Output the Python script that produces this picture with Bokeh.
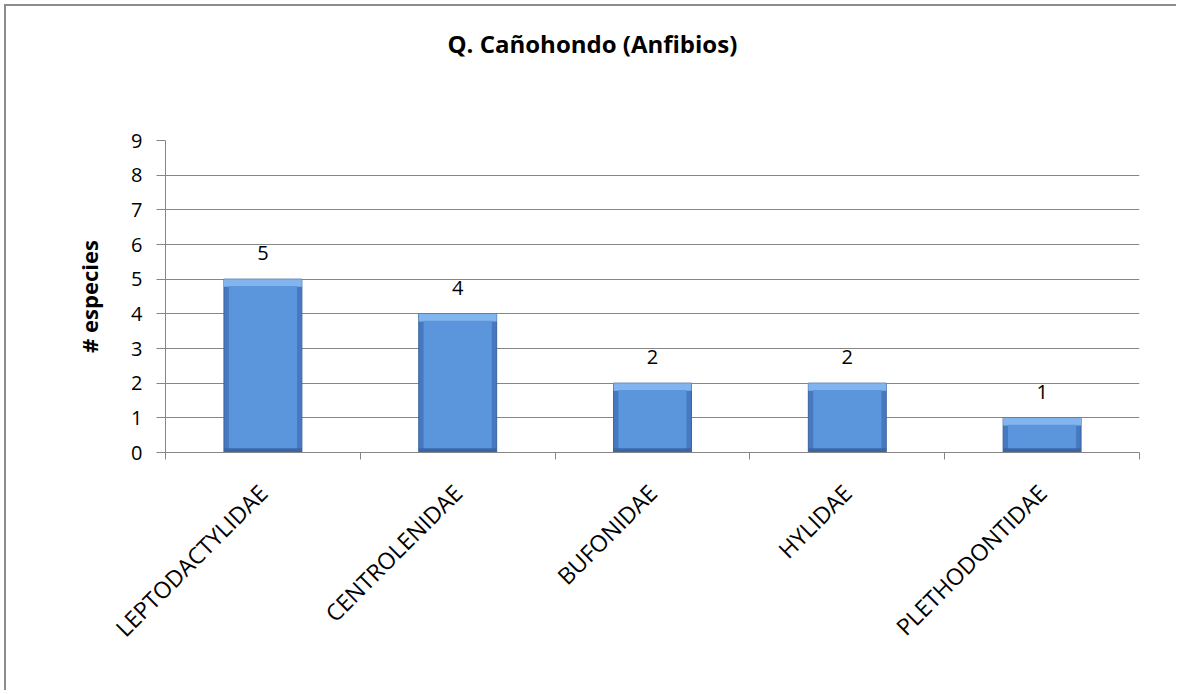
import math
from bokeh.plotting import figure
from bokeh.models import FixedTicker, LabelSet, ColumnDataSource, Range1d, Title
from bokeh.core.properties import value
from bokeh.embed import file_html
from bokeh.resources import INLINE

# ---- data ----
categories = ["LEPTODACTYLIDAE", "CENTROLENIDAE", "BUFONIDAE", "HYLIDAE", "PLETHODONTIDAE"]
values = [5, 4, 2, 2, 1]
y_ticks = [0, 1, 2, 3, 4, 5, 6, 7, 8, 9]
title_text = "Q. Cañohondo (Anfibios)"
y_label = "# especies"

n = len(categories)
positions = [i + 0.5 for i in range(n)]
edges = list(range(n + 1))

GRAY = "#868686"
FONT = "Open Sans"

p = figure(width=1172, height=686,
           x_range=Range1d(0, n), y_range=Range1d(y_ticks[0], y_ticks[-1]),
           output_backend="svg", toolbar_location=None,
           min_border_left=159, min_border_right=39, min_border_top=134, min_border_bottom=240,
           background_fill_color="white", border_fill_color="white",
           outline_line_color=None)
p.styles = {"margin-left": "6px", "margin-top": "6px",
            "box-shadow": "-2px -2px 0px 0px #8c8c8c"}

# spacer (closest to frame) then the real title
spacer = Title(text=" ", text_font_size="1px", standoff=78)
p.add_layout(spacer, "above")
main_title = Title(text=title_text, text_font=FONT, text_font_style="bold",
                   text_font_size="24px", text_color="black",
                   align="left", offset=282, standoff=0)
p.add_layout(main_title, "above")

# bars with bevel look
src = ColumnDataSource(dict(x=positions, v=values, lab=[str(v) for v in values],
                            top_band=[v - 0.22 for v in values],
                            inner_top=[v - 0.2 for v in values]))
bw = 0.4
p.vbar(x="x", width=bw, top="v", bottom=0, source=src, fill_color="#4679bf", line_color="#3a64a0", line_width=1)
p.vbar(x="x", width=bw, top=0.12, bottom=0, source=src, fill_color="#3b66a3", line_color=None)
p.vbar(x="x", width=bw, top="v", bottom="top_band", source=src, fill_color="#82b4ee", line_color=None)
p.vbar(x="x", width=bw - 0.05, top="inner_top", bottom=0.12, source=src, fill_color="#5b96dd", line_color=None)

labels = LabelSet(x="x", y="v", text="lab", source=src, y_offset=19,
                  text_align="center", text_baseline="alphabetic",
                  text_font=value(FONT), text_font_size=value("20px"), text_color="black")
p.add_layout(labels)

# y axis
p.yaxis.ticker = FixedTicker(ticks=y_ticks)
p.yaxis.axis_line_color = GRAY
p.yaxis.major_tick_line_color = GRAY
p.yaxis.major_tick_in = 0
p.yaxis.major_tick_out = 9
p.yaxis.minor_tick_line_color = None
p.yaxis.major_label_text_font = FONT
p.yaxis.major_label_text_font_size = "20px"
p.yaxis.major_label_text_color = "black"
p.yaxis.major_label_standoff = 14
p.yaxis.axis_label = y_label
p.yaxis.axis_label_text_font = FONT
p.yaxis.axis_label_text_font_style = "bold"
p.yaxis.axis_label_text_font_size = "22px"
p.yaxis.axis_label_text_color = "black"
p.yaxis.axis_label_standoff = 24

p.ygrid.ticker = FixedTicker(ticks=y_ticks)
p.ygrid.grid_line_color = GRAY
p.xgrid.grid_line_color = None

# x axis: labels at centers, ticks at boundaries
p.xaxis.ticker = FixedTicker(ticks=positions, minor_ticks=edges)
p.xaxis.major_label_overrides = {pos: cat for pos, cat in zip(positions, categories)}
p.xaxis.major_tick_line_color = None
p.xaxis.major_tick_in = 0
p.xaxis.major_tick_out = 0
p.xaxis.minor_tick_line_color = GRAY
p.xaxis.minor_tick_in = 0
p.xaxis.minor_tick_out = 7
p.xaxis.axis_line_color = GRAY
p.xaxis.major_label_orientation = math.pi / 4
p.xaxis.major_label_text_font = FONT
p.xaxis.major_label_text_font_size = "23px"
p.xaxis.major_label_text_color = "black"
p.xaxis.major_label_standoff = 29

open("out.html", "w").write(file_html(p, INLINE))
